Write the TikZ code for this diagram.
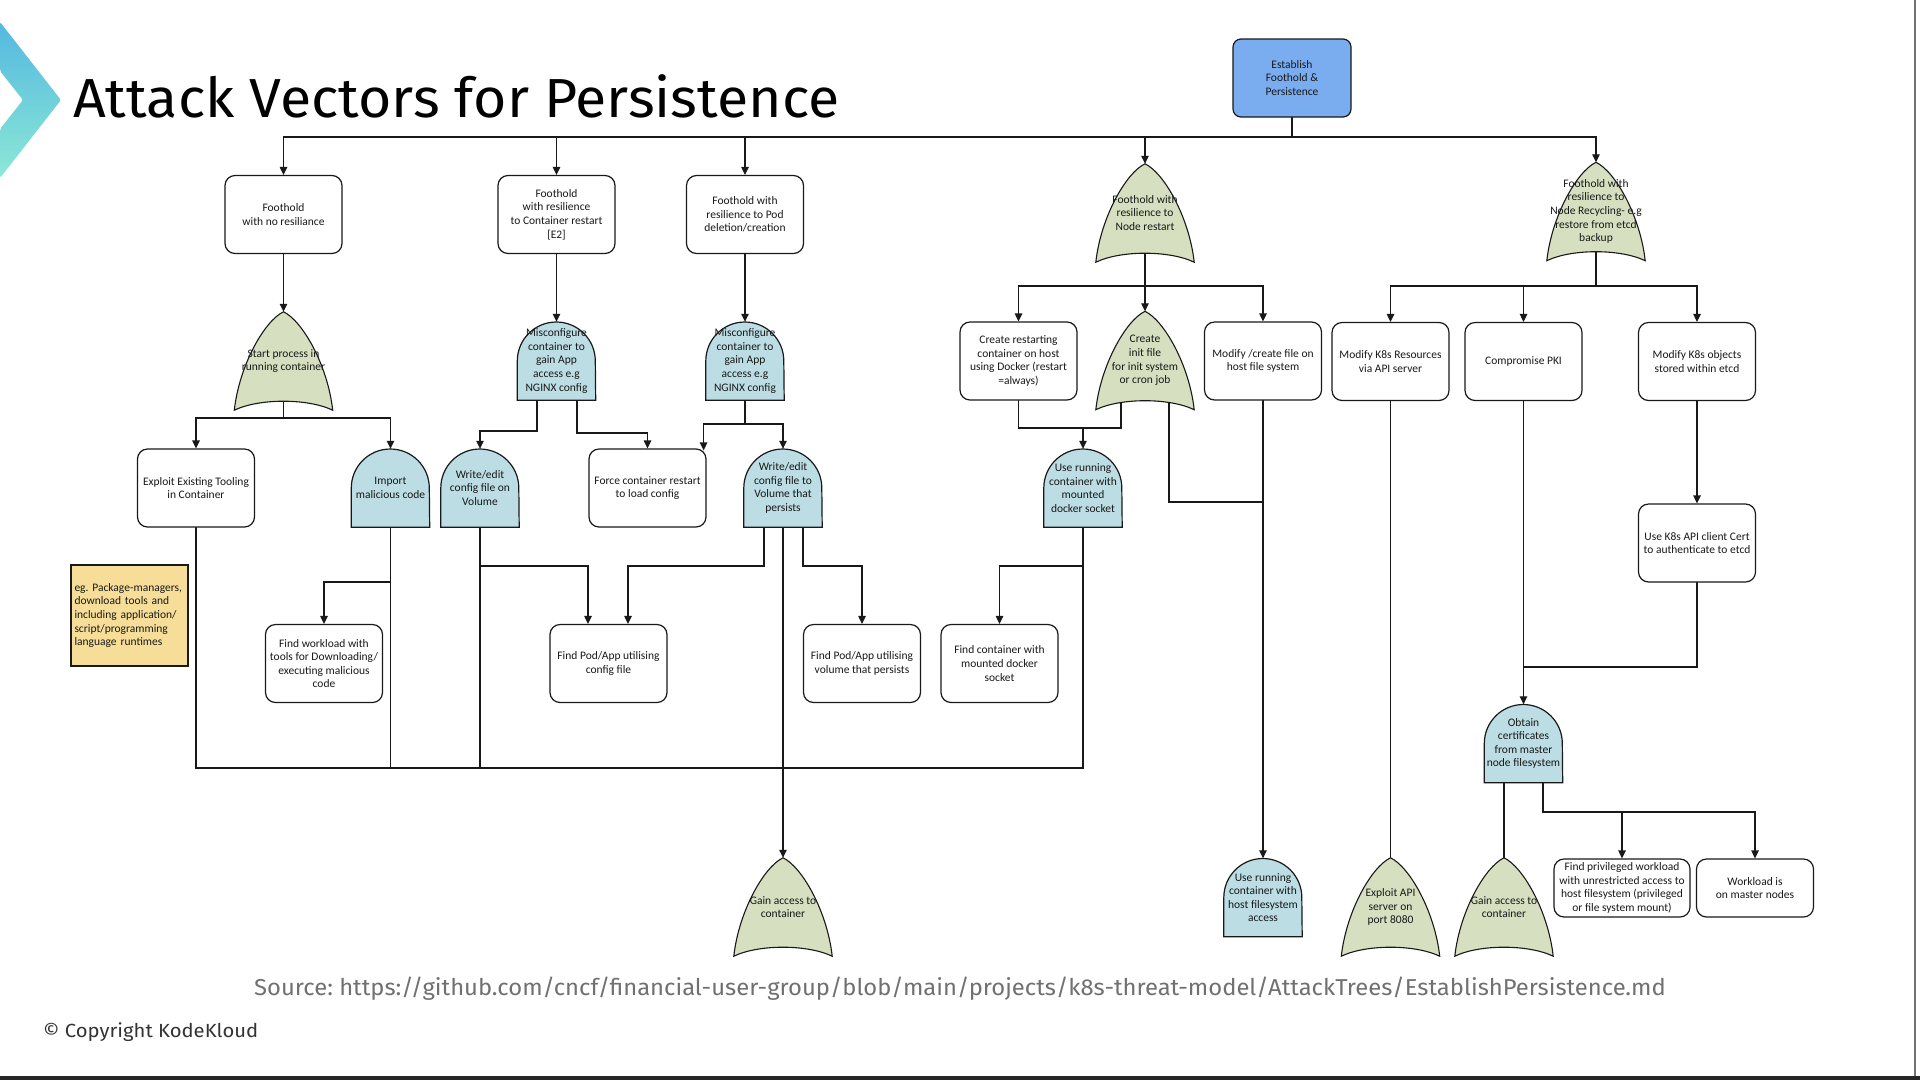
\documentclass[tikz,border=0pt]{standalone}
\usepackage{fontspec}
\usepackage{graphicx}
\setmainfont{Carlito}
\newfontfamily\titlefont{Fira Sans}
\usetikzlibrary{arrows.meta,calc}
\pgfdeclarelayer{back}
\pgfdeclarelayer{lines}
\pgfdeclarelayer{shapes}
\pgfsetlayers{back,lines,shapes,main}
\definecolor{rootblue}{RGB}{122,172,240}
\definecolor{gategreen}{RGB}{214,224,192}
\definecolor{gateblue}{RGB}{188,221,228}
\definecolor{noteyellow}{RGB}{247,222,152}
\definecolor{srcgray}{RGB}{112,112,112}
\definecolor{edge}{RGB}{25,25,25}
\definecolor{chevA}{RGB}{84,184,224}
\definecolor{chevB}{RGB}{140,232,214}
\frenchspacing
\begin{document}
\begin{tikzpicture}[x=1pt,y=-1pt,
  every node/.style={font=\fontsize{11.5}{13.6}\selectfont, inner sep=0pt, align=center, text=edge},
  box/.style={draw=edge, line width=1.2pt, fill=white, rounded corners=10pt, minimum width=117pt, minimum height=78pt},
  rootbox/.style={box, fill=rootblue, rounded corners=8pt, minimum width=118pt},
  notebox/.style={draw=edge, line width=1.2pt, fill=noteyellow, minimum width=117pt, minimum height=101pt, align=left, text width=110pt},
  andg/.style={minimum width=78pt, minimum height=78pt},
  org/.style={minimum width=98pt, minimum height=98pt},
  ln/.style={draw=edge, line width=1.2pt},
  arr/.style={ln, -{Triangle[length=8pt,width=7.5pt]}},
  andshape/.style={draw=edge, line width=1.2pt, fill=gateblue},
  orshape/.style={draw=edge, line width=1.1pt, fill=gategreen},
]
\useasboundingbox (0,0) rectangle (1920,1080);
\begin{pgfonlayer}{back}
\fill[white] (0,0) rectangle (1920,1080);
\end{pgfonlayer}

% logo chevron
\shade[top color=chevA, bottom color=chevB, rounded corners=2pt]
  (0,22) -- (61,100) -- (0,178) -- (0,129) -- (23,100) -- (0,71) -- cycle;

% title & footer
\node[anchor=base west, font=\titlefont\fontsize{55}{60}\selectfont, text=black] (title) at (73,117) {\scalebox{1.04}[1]{Attack Vectors for Persistence}};
\node[anchor=base, font=\titlefont\fontsize{23}{26}\selectfont, text=srcgray] (src) at (960,995) {\scalebox{1.035}[1]{Source: https://github.com/cncf/financial-user-group/blob/main/projects/k8s-threat-model/AttackTrees/EstablishPersistence.md}};
\node[anchor=base west, font=\titlefont\fontsize{19}{22}\selectfont, text=black!80] (copy) at (43,1037) {\scalebox{1.065}[1]{© Copyright KodeKloud}};
\fill[black!85] (0,1076) rectangle (1920,1080);
\draw[black!55, line width=1.5pt] (1915,0) -- (1915,1076);

% root
\node[rootbox] (root) at (1292,78) {Establish\\Foothold \&\\Persistence};

% level 1
\node[box] (f1) at (283.5,214.5) {Foothold\\with no resiliance};
\node[box] (f2) at (556.5,214.5) {Foothold\\with resilience\\to Container restart\\{[E2]}};
\node[box] (f3) at (745,214.5) {Foothold with\\resilience to Pod\\deletion/creation};
\node[org] (f4) at (1145,213) {Foothold with\\resilience to\\Node restart};
\node[org] (f5) at (1596,211.5) {Foothold with\\resilience to\\Node Recycling- e.g\\restore from etcd\\backup};

% level 2
\node[org] (sp) at (283.5,361) {Start process in\\running container};
\node[andg] (mis1) at (556.5,361) {Misconfigure\\container to\\gain App\\access e.g\\NGINX config};
\node[andg] (mis2) at (745,361) {Misconfigure\\container to\\gain App\\access e.g\\NGINX config};
\node[box] (crc) at (1018.5,361) {Create restarting\\container on host\\using Docker (restart\\=always)};
\node[org] (init) at (1145,360.5) {Create\\init file\\for init system\\or cron job};
\node[box] (mod) at (1263,361) {Modify /create file on\\host file system};
\node[box] (k8sr) at (1390.5,361.5) {Modify K8s Resources\\via API server};
\node[box] (pki) at (1523.5,361.5) {Compromise PKI};
\node[box] (etcd) at (1697,361.5) {Modify K8s objects\\stored within etcd};

% level 3
\node[box] (exp) at (196,488) {Exploit Existing Tooling\\in Container};
\node[andg] (imp) at (390.5,488) {Import\\malicious code};
\node[andg] (wvol) at (480,488) {Write/edit\\config file on\\Volume};
\node[box] (fcr) at (647.5,488) {Force container restart\\to load config};
\node[andg] (wper) at (783,488) {Write/edit\\config file to\\Volume that\\persists};
\node[andg] (dock) at (1083,488) {Use running\\container with\\mounted\\docker socket};
\node[box] (cert) at (1697,543) {Use K8s API client Cert\\to authenticate to etcd};

% level 4
\node[notebox] (note) at (129.5,615.5) {eg. Package-managers,\\download tools and\\including application/\\script/programming\\language runtimes};
\node[box] (fw) at (324,663.5) {Find workload with\\tools for Downloading/\\executing malicious\\code};
\node[box] (fpc) at (608.5,663.5) {Find Pod/App utilising\\config file};
\node[box] (fpv) at (862,663.5) {Find Pod/App utilising\\volume that persists};
\node[box] (fcd) at (999.5,663.5) {Find container with\\mounted docker\\socket};
\node[andg] (obt) at (1523.5,743.5) {Obtain\\certificates\\from master\\node filesystem};

% bottom
\node[org] (gac1) at (783,907) {Gain access to\\container};
\node[andg] (hfs) at (1263,897.5) {Use running\\container with\\host filesystem\\access};
\node[org] (api) at (1390.5,907) {Exploit API\\server on\\port 8080};
\node[org] (gac2) at (1504,907) {Gain access to\\container};
\node[box, minimum width=136pt, minimum height=58pt] (fpw) at (1622,888) {Find privileged workload\\with unrestricted access to\\host filesystem (privileged\\or file system mount)};
\node[box, minimum height=58pt] (wom) at (1755,888) {Workload is\\on master nodes};

% gate shapes
\begin{pgfonlayer}{shapes}
\foreach \n in {mis1,mis2,imp,wvol,wper,dock,obt,hfs}
  \draw[andshape] (\n.south west) -- (\n.west) arc[start angle=180, end angle=0, x radius=39pt, y radius=39pt] -- (\n.south east) -- cycle;
\foreach \n in {f4,f5,sp,init,gac1,api,gac2}
  \draw[orshape] (\n.south west)
     .. controls ($(\n.south west)+(5,-45)$) and ($(\n.north)+(-19,9)$) .. (\n.north)
     .. controls ($(\n.north)+(19,9)$) and ($(\n.south east)+(-5,-45)$) .. (\n.south east)
     .. controls ($(\n.south east)+(-25,-12)$) and ($(\n.south west)+(25,-12)$) .. (\n.south west) -- cycle;
\end{pgfonlayer}

% connectors
\begin{pgfonlayer}{lines}
\foreach \c in {f1,f2,f3,f4,f5} \draw[arr] (root.center) -- (root.center |- 0,137) -| (\c.north);
\draw[arr] (f1.center) -- (sp.north);
\draw[arr] (f2.center) -- (mis1.north);
\draw[arr] (f3.center) -- (mis2.north);
\draw[arr] (sp.center) -- (sp.center |- 0,418) -| (exp.north);
\draw[arr] (sp.center |- 0,418) -| (imp.north);
\draw[arr] (mis1.center -| 537,0) -- (537,431) -| (wvol.north);
\draw[arr] (mis1.center -| 577,0) -- (577,433) -| (fcr.north);
\draw[arr] (mis2.center) -- (mis2.center |- 0,424) -| (wper.north);
\draw[arr] (mis2.center |- 0,424) -| ($(fcr.north east)+(-3,2)$);
\draw[arr] (f4.center) -- (init.north);
\draw[arr] (f4.center |- 0,286) -| (crc.north);
\draw[arr] (f4.center |- 0,286) -| (mod.north);
\draw[arr] (f5.center) -- (f5.center |- 0,286) -| (k8sr.north);
\draw[arr] (f5.center |- 0,286) -| (pki.north);
\draw[arr] (f5.center |- 0,286) -| (etcd.north);
\draw[ln] (crc.center) -- (crc.center |- 0,428) -- (1121,428) -- (init.center -| 1121,0);
\draw[arr] (dock.center |- 0,428) -- (dock.north);
\draw[ln] (init.center -| 1169,0) -- (1169,502) -- (mod.center |- 0,502);
\draw[arr] (mod.center) -- (hfs.north);
\draw[ln] (k8sr.center) -- (api.north);
\draw[arr] (pki.center) -- (obt.north);
\draw[arr] (etcd.center) -- (cert.north);
\draw[ln] (cert.center) -- (cert.center |- 0,667) -- (pki.center |- 0,667);
\draw[ln] (obt.center -| 1504,0) -- (gac2.north);
\draw[arr] (obt.center -| 1543,0) -- (1543,812) -| (fpw.north);
\draw[arr] (1543,812) -| (wom.north);
\draw[ln] (exp.center) -- (exp.center |- 0,768) -- (dock.center |- 0,768) -- (dock.center);
\draw[ln] (imp.center) -- (imp.center |- 0,768);
\draw[arr] (imp.center |- 0,582) -| (fw.north);
\draw[ln] (wvol.center) -- (wvol.center |- 0,768);
\draw[arr] (wvol.center |- 0,566) -| (fpc.north -| 588,0);
\draw[arr] (wper.center -| 764,0) -- (764,566) -| (fpc.north -| 628,0);
\draw[arr] (wper.center) -- (gac1.north);
\draw[arr] (wper.center -| 803,0) -- (803,566) -| (fpv.north);
\draw[arr] (dock.center |- 0,566) -| (fcd.north);
\end{pgfonlayer}
\end{tikzpicture}
\end{document}
